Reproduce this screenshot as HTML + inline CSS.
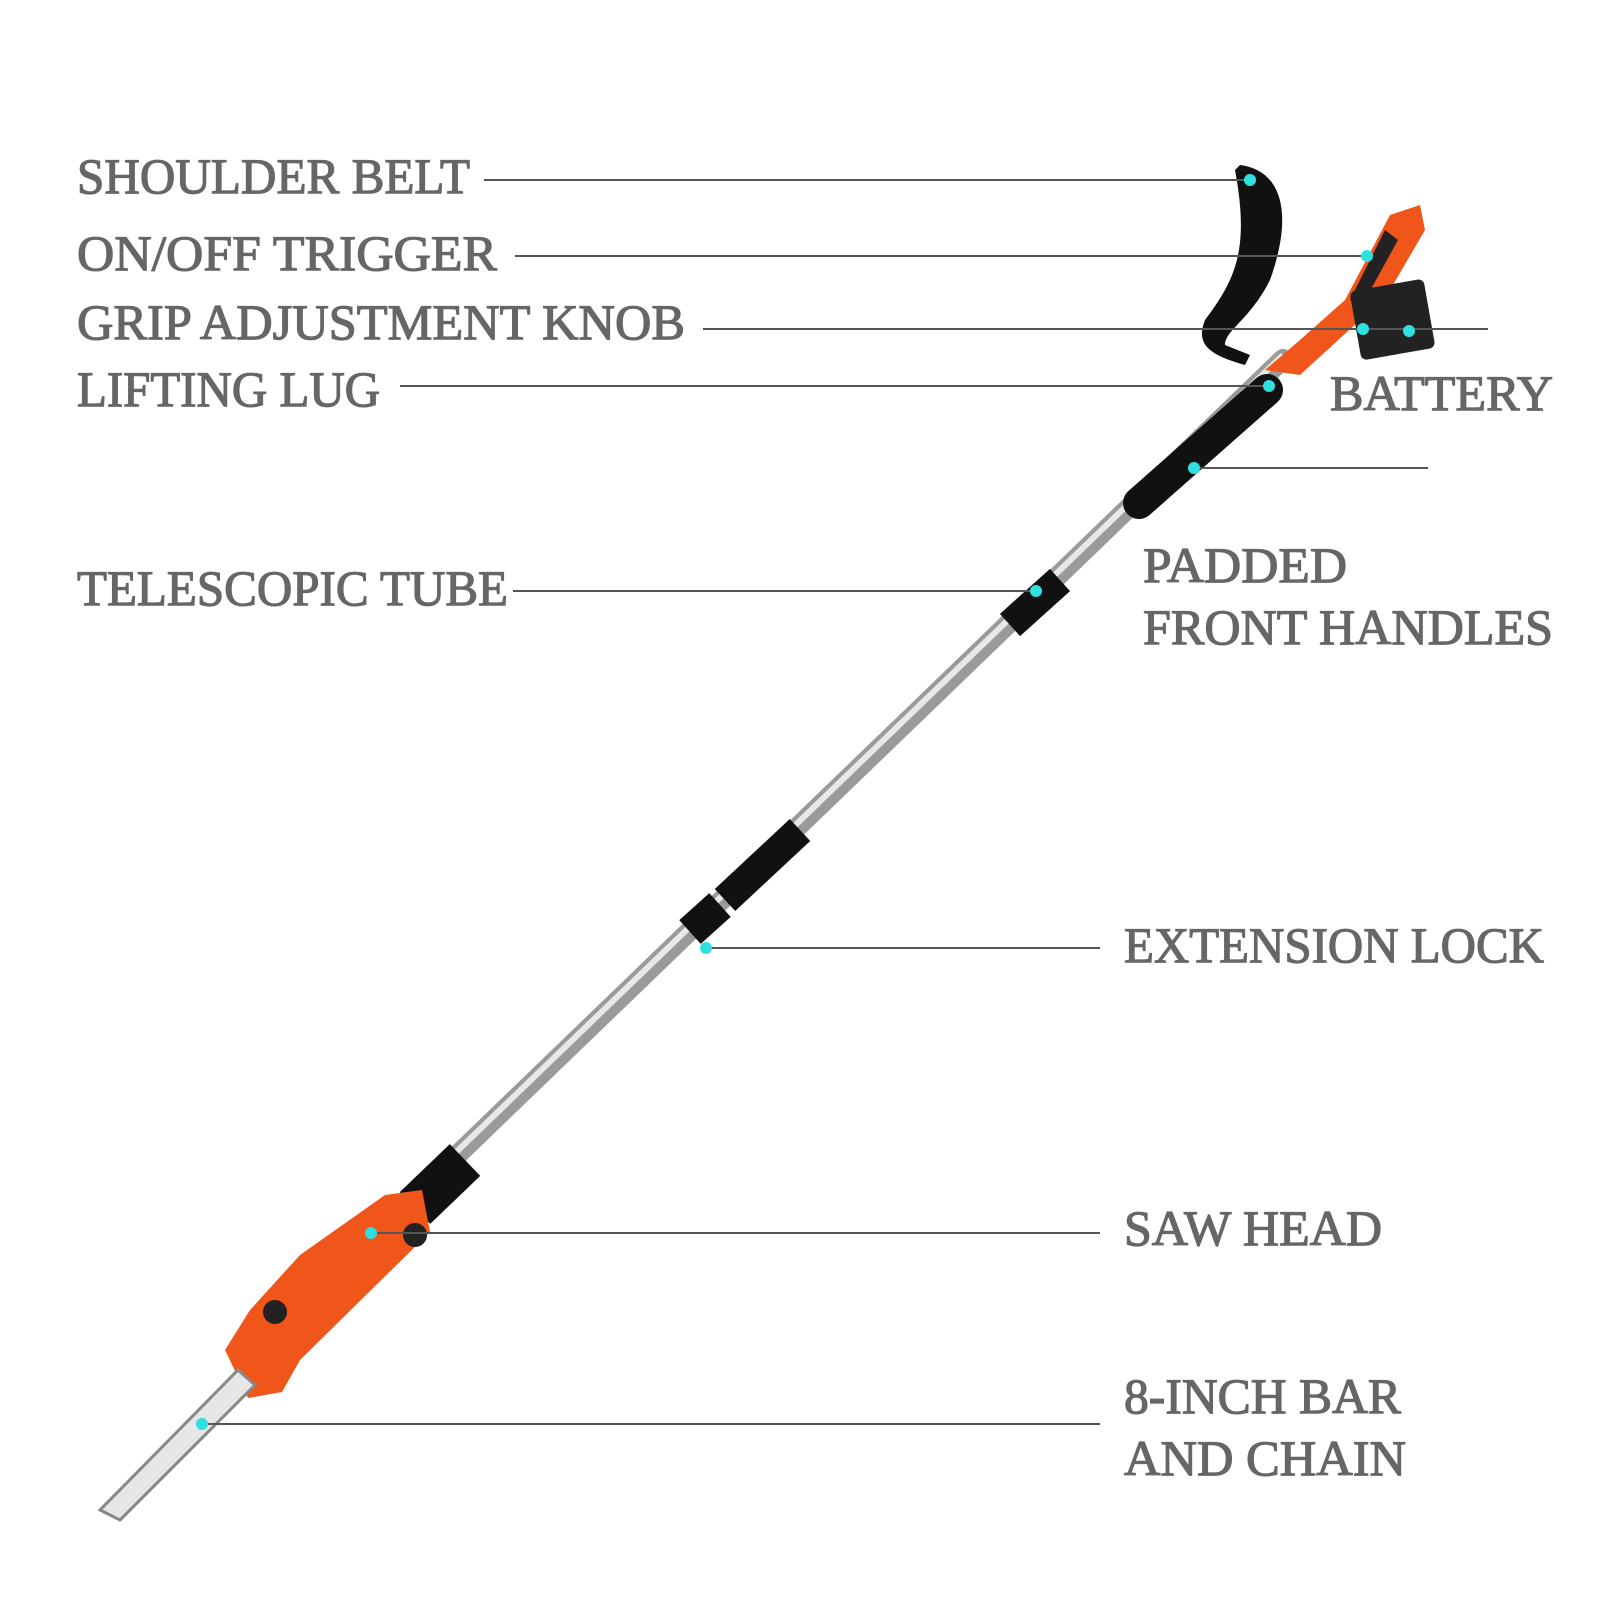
<!DOCTYPE html>
<html><head><style>
html,body{margin:0;padding:0;background:#fff;}
svg{display:block}
text{font-family:"Liberation Serif",serif;fill:#666;stroke:#666;stroke-width:1.2px;font-size:50px;}
</style></head><body>
<svg width="1600" height="1600" viewBox="0 0 1600 1600" xmlns="http://www.w3.org/2000/svg">
<!-- pole -->
<line x1="1283" y1="359" x2="421" y2="1190" stroke="#9a9a9a" stroke-width="20" stroke-linecap="round"/>
<line x1="1283" y1="355" x2="421" y2="1186" stroke="#e8e8e8" stroke-width="6"/>
<!-- foam handle -->
<line x1="1267" y1="390" x2="1139" y2="503" stroke="#111" stroke-width="32" stroke-linecap="round"/>
<!-- clamps -->
<line x1="1060" y1="580" x2="1010" y2="625" stroke="#111" stroke-width="30"/>
<line x1="800" y1="830" x2="725" y2="900" stroke="#111" stroke-width="30"/>
<line x1="720" y1="905" x2="690" y2="932" stroke="#111" stroke-width="32"/>
<!-- lower collar -->
<line x1="465" y1="1160" x2="415" y2="1208" stroke="#111" stroke-width="44"/>
<!-- saw head -->
<path d="M385 1195 L422 1190 L430 1232 L300 1360 L282 1392 L248 1398 L225 1350 L250 1310 L300 1255 Z" fill="#f0561a"/>
<circle cx="415" cy="1235" r="12" fill="#222"/>
<circle cx="275" cy="1312" r="12" fill="#222"/>
<!-- bar -->
<path d="M238 1370 L255 1385 L120 1520 L100 1510 Z" fill="#e6e6e6" stroke="#888" stroke-width="3"/>
<!-- rear handle -->
<path d="M1265 370 L1300 340 L1345 300 L1390 215 L1420 205 L1425 230 L1390 290 L1360 320 L1300 375 Z" fill="#f0561a"/>
<path d="M1350 300 L1385 230 L1398 240 L1365 300 Z" fill="#222"/>
<rect x="1355" y="285" width="75" height="70" rx="6" fill="#222" transform="rotate(-10 1390 320)"/>
<!-- belt -->
<path d="M1240 165 C1280 170 1295 210 1270 280 C1250 320 1225 330 1225 345 L1250 355 L1245 365 C1210 355 1195 345 1205 320 C1235 280 1250 250 1235 170 Z" fill="#111"/>
<!-- lines -->
<g stroke="#555" stroke-width="2">
<line x1="484" y1="180" x2="1250" y2="180"/>
<line x1="515" y1="256" x2="1367" y2="256"/>
<line x1="703" y1="329" x2="1488" y2="329"/>
<line x1="400" y1="386" x2="1269" y2="386"/>
<line x1="1194" y1="468" x2="1428" y2="468"/>
<line x1="513" y1="591" x2="1036" y2="591"/>
<line x1="706" y1="948" x2="1100" y2="948"/>
<line x1="371" y1="1233" x2="1100" y2="1233"/>
<line x1="202" y1="1424" x2="1100" y2="1424"/>
</g>
<g fill="#2fe0e0">
<circle cx="1250" cy="180" r="6"/><circle cx="1367" cy="256" r="6"/>
<circle cx="1363" cy="329" r="6"/><circle cx="1409" cy="331" r="6"/>
<circle cx="1269" cy="386" r="6"/><circle cx="1194" cy="468" r="6"/>
<circle cx="1036" cy="591" r="6"/><circle cx="706" cy="948" r="6"/>
<circle cx="371" cy="1233" r="6"/><circle cx="202" cy="1424" r="6"/>
</g>
<text x="77" y="193" textLength="393" lengthAdjust="spacingAndGlyphs">SHOULDER BELT</text>
<text x="77" y="270" textLength="420" lengthAdjust="spacingAndGlyphs">ON/OFF TRIGGER</text>
<text x="77" y="339" textLength="608" lengthAdjust="spacingAndGlyphs">GRIP ADJUSTMENT KNOB</text>
<text x="77" y="406" textLength="303" lengthAdjust="spacingAndGlyphs">LIFTING LUG</text>
<text x="1330" y="410" textLength="223" lengthAdjust="spacingAndGlyphs">BATTERY</text>
<text x="1143" y="582" textLength="204" lengthAdjust="spacingAndGlyphs">PADDED</text>
<text x="1143" y="644" textLength="410" lengthAdjust="spacingAndGlyphs">FRONT HANDLES</text>
<text x="77" y="605" textLength="431" lengthAdjust="spacingAndGlyphs">TELESCOPIC TUBE</text>
<text x="1124" y="962" textLength="420" lengthAdjust="spacingAndGlyphs">EXTENSION LOCK</text>
<text x="1124" y="1245" textLength="258" lengthAdjust="spacingAndGlyphs">SAW HEAD</text>
<text x="1124" y="1413" textLength="277" lengthAdjust="spacingAndGlyphs">8-INCH BAR</text>
<text x="1124" y="1475" textLength="282" lengthAdjust="spacingAndGlyphs">AND CHAIN</text>
</svg>
</body></html>
